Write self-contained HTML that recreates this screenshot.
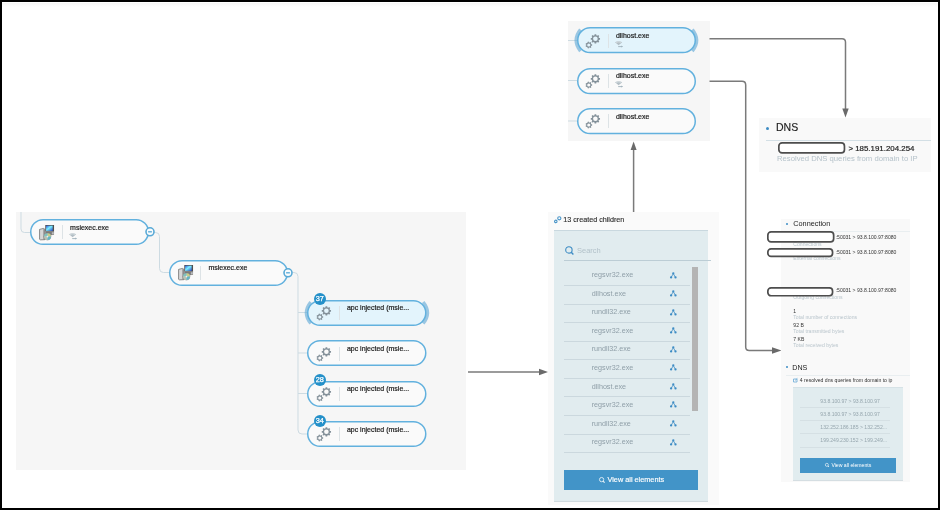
<!DOCTYPE html>
<html><head><meta charset="utf-8"><style>
html,body{margin:0;padding:0;}
body{width:940px;height:510px;position:relative;overflow:hidden;background:#fff;font-family:'Liberation Sans', sans-serif;}
#w{position:absolute;left:0;top:0;width:940px;height:510px;will-change:transform}
</style></head><body><div id="w">
<div style="position:absolute;left:2px;top:3px;width:936px;height:4px;background:linear-gradient(#f6f6f6,#fff)"></div>
<div style="position:absolute;left:16px;top:212px;width:450px;height:258px;background:#f6f6f6"></div>
<svg style="position:absolute;left:0;top:0" width="940" height="510">
<g fill="none" stroke="#cddbe2" stroke-width="1">
<path d="M21 212 L21 229 Q21 232.5 24.5 232.5 L31 232.5"/>
<path d="M154 232.5 L155.5 232.5 Q159.5 232.5 159.5 236.5 L159.5 268.5 Q159.5 272.5 163.5 272.5 L169.5 272.5"/>
<path d="M292.5 272.5 L294 272.5 Q298 272.5 298 276.5 L298 430 Q298 434 302 434 L308 434"/>
<path d="M298 312.5 L308 312.5 M298 353 L308 353 M298 393.5 L308 393.5"/>
<path d="M568 40.5 L577 40.5 M568 80.5 L577 80.5 M568 121 L577 121"/>
</g></svg>
<svg style="position:absolute;left:30.4px;top:219.3px;overflow:visible" width="119.2" height="26"><rect x="0.75" y="0.75" width="117.7" height="24.5" rx="12.25" fill="#fafafa" stroke="#62b1de" stroke-width="1.5"/></svg>
<div style="position:absolute;left:30.4px;top:219.3px;width:119.2px;height:26px">
<svg style="position:absolute;left:9.0px;top:5.3px;overflow:visible" width="16.2" height="16.2" viewBox="0 0 17 17">
<defs><linearGradient id="scr" x1="0" y1="0" x2="1" y2="1"><stop offset="0" stop-color="#2f56d8"/><stop offset="0.45" stop-color="#7af0ff"/><stop offset="1" stop-color="#2a48c8"/></linearGradient></defs>
<path d="M0.6 4.6 L4.6 3.6 L6.2 4.4 L6.2 15.4 L1.6 15.6 L0.6 15.0Z" fill="#d6d6d6" stroke="#5a5a5a" stroke-width="0.7"/>
<path d="M4.6 4 L6.2 4.6 L6.2 15.4 L4.6 15.5Z" fill="#8a8a8a"/>
<rect x="6.6" y="0" width="9.2" height="7" fill="#4e4e4e"/>
<rect x="7.4" y="0.7" width="7" height="5.5" fill="url(#scr)"/>
<path d="M6.6 7 L15.8 7 L15.8 10.2 L11.5 11 L6.6 10.5Z" fill="#7a7a7a"/>
<path d="M13.5 7.5 L15.6 7.5 L15.6 9.8 L13.5 10Z" fill="#bdbdbd"/>
<circle cx="8.9" cy="12.2" r="3.6" fill="#c7cbc9" stroke="#6e6e6e" stroke-width="0.5"/>
<path d="M8.9 8.6 A3.6 3.6 0 0 1 12.5 12.2 L8.9 12.2Z" fill="#c9cf86"/>
<path d="M8.9 12.2 L5.3 12.2 A3.6 3.6 0 0 1 8.9 8.6Z" fill="#7fc2bf"/>
<path d="M8.9 12.2 L8.9 15.8 A3.6 3.6 0 0 1 5.3 12.2Z" fill="#b9c3b0"/>
<path d="M8.9 12.2 L12.5 12.2 A3.6 3.6 0 0 1 8.9 15.8Z" fill="#5fb5c5"/>
<circle cx="8.9" cy="12.2" r="0.9" fill="#eee"/>
</svg>
<div style="position:absolute;left:31.4px;top:6.2px;width:1px;height:14px;background:#dde3e6"></div>
<div style="position:absolute;left:39.7px;top:4.5px;font:7px/8px 'Liberation Sans', sans-serif;color:#1a1a1a;-webkit-text-stroke:0.2px #1a1a1a;white-space:nowrap">msiexec.exe</div>
<svg style="position:absolute;left:39.0px;top:13.4px;overflow:visible" width="9" height="7" viewBox="0 0 9 7">
<path d="M0 1.2 Q3.6 -0.9 7.2 1.2 L3.6 4.2Z" fill="#b3bec5"/>
<path d="M0.9 1.6 Q3.6 0.3 6.3 1.6" fill="none" stroke="#e9eef1" stroke-width="0.5"/>
<path d="M3.2 5.6 L7.2 5.6" stroke="#9fb0ba" stroke-width="0.9"/><path d="M6.4 4.6 L8 5.6 L6.4 6.6Z" fill="#9fb0ba"/>
</svg>
</div>
<svg style="position:absolute;left:143.6px;top:226.3px;overflow:visible" width="12" height="12"><circle cx="6" cy="5.8" r="4" fill="#f8fbfd" stroke="#58a9d6" stroke-width="1.6"/><path d="M4.1 5.8 L7.9 5.8" stroke="#58a9d6" stroke-width="1.3"/></svg>
<svg style="position:absolute;left:168.7px;top:259.5px;overflow:visible" width="119.2" height="26"><rect x="0.75" y="0.75" width="117.7" height="24.5" rx="12.25" fill="#fafafa" stroke="#62b1de" stroke-width="1.5"/></svg>
<div style="position:absolute;left:168.7px;top:259.5px;width:119.2px;height:26px">
<svg style="position:absolute;left:9.0px;top:5.3px;overflow:visible" width="16.2" height="16.2" viewBox="0 0 17 17">
<defs><linearGradient id="scr" x1="0" y1="0" x2="1" y2="1"><stop offset="0" stop-color="#2f56d8"/><stop offset="0.45" stop-color="#7af0ff"/><stop offset="1" stop-color="#2a48c8"/></linearGradient></defs>
<path d="M0.6 4.6 L4.6 3.6 L6.2 4.4 L6.2 15.4 L1.6 15.6 L0.6 15.0Z" fill="#d6d6d6" stroke="#5a5a5a" stroke-width="0.7"/>
<path d="M4.6 4 L6.2 4.6 L6.2 15.4 L4.6 15.5Z" fill="#8a8a8a"/>
<rect x="6.6" y="0" width="9.2" height="7" fill="#4e4e4e"/>
<rect x="7.4" y="0.7" width="7" height="5.5" fill="url(#scr)"/>
<path d="M6.6 7 L15.8 7 L15.8 10.2 L11.5 11 L6.6 10.5Z" fill="#7a7a7a"/>
<path d="M13.5 7.5 L15.6 7.5 L15.6 9.8 L13.5 10Z" fill="#bdbdbd"/>
<circle cx="8.9" cy="12.2" r="3.6" fill="#c7cbc9" stroke="#6e6e6e" stroke-width="0.5"/>
<path d="M8.9 8.6 A3.6 3.6 0 0 1 12.5 12.2 L8.9 12.2Z" fill="#c9cf86"/>
<path d="M8.9 12.2 L5.3 12.2 A3.6 3.6 0 0 1 8.9 8.6Z" fill="#7fc2bf"/>
<path d="M8.9 12.2 L8.9 15.8 A3.6 3.6 0 0 1 5.3 12.2Z" fill="#b9c3b0"/>
<path d="M8.9 12.2 L12.5 12.2 A3.6 3.6 0 0 1 8.9 15.8Z" fill="#5fb5c5"/>
<circle cx="8.9" cy="12.2" r="0.9" fill="#eee"/>
</svg>
<div style="position:absolute;left:31.4px;top:6.2px;width:1px;height:14px;background:#dde3e6"></div>
<div style="position:absolute;left:39.7px;top:4.5px;font:7px/8px 'Liberation Sans', sans-serif;color:#1a1a1a;-webkit-text-stroke:0.2px #1a1a1a;white-space:nowrap">msiexec.exe</div>
</div>
<svg style="position:absolute;left:281.9px;top:266.5px;overflow:visible" width="12" height="12"><circle cx="6" cy="5.8" r="4" fill="#f8fbfd" stroke="#58a9d6" stroke-width="1.6"/><path d="M4.1 5.8 L7.9 5.8" stroke="#58a9d6" stroke-width="1.3"/></svg>
<svg style="position:absolute;left:0;top:0;overflow:visible" width="1" height="1"><g fill="none" stroke="rgba(92,166,214,0.6)" stroke-width="3.2">
<path d="M310.7 301.9 Q302.0 312.7 310.7 323.5"/>
<path d="M423.2 301.9 Q431.9 312.7 423.2 323.5"/></g></svg>
<svg style="position:absolute;left:307.2px;top:299.7px;overflow:visible" width="119.5" height="26"><rect x="0.75" y="0.75" width="118.0" height="24.5" rx="12.25" fill="#e3f4fc" stroke="#62b1de" stroke-width="1.5"/></svg>
<div style="position:absolute;left:307.2px;top:299.7px;width:119.5px;height:26px">
<svg style="position:absolute;left:9.2px;top:6.3px;overflow:visible" width="16" height="16" viewBox="0 0 16 16">
<path d="M13.99,3.91 L15.03,3.97 L15.03,5.63 L13.99,5.69 L13.57,6.71 L14.26,7.49 L13.09,8.66 L12.31,7.97 L11.29,8.39 L11.23,9.43 L9.57,9.43 L9.51,8.39 L8.49,7.97 L7.71,8.66 L6.54,7.49 L7.23,6.71 L6.81,5.69 L5.77,5.63 L5.77,3.97 L6.81,3.91 L7.23,2.89 L6.54,2.11 L7.71,0.94 L8.49,1.63 L9.51,1.21 L9.57,0.17 L11.23,0.17 L11.29,1.21 L12.31,1.63 L13.09,0.94 L14.26,2.11 L13.57,2.89Z" fill="#84919a"/><circle cx="10.4" cy="4.8" r="2.3" fill="#e3f4fc"/>
<path d="M6.30,10.29 L7.13,10.32 L7.13,11.68 L6.30,11.71 L5.92,12.51 L6.41,13.18 L5.34,14.03 L4.80,13.40 L3.94,13.60 L3.72,14.40 L2.39,14.10 L2.55,13.28 L1.86,12.73 L1.09,13.06 L0.50,11.83 L1.24,11.44 L1.24,10.56 L0.50,10.17 L1.09,8.94 L1.86,9.27 L2.55,8.72 L2.39,7.90 L3.72,7.60 L3.94,8.40 L4.80,8.60 L5.34,7.97 L6.41,8.82 L5.92,9.49Z" fill="#84919a"/><circle cx="3.8" cy="11.0" r="1.6" fill="#e3f4fc"/></svg>
<div style="position:absolute;left:31.4px;top:6.2px;width:1px;height:14px;background:#dde3e6"></div>
<div style="position:absolute;left:39.7px;top:4.5px;font:7px/8px 'Liberation Sans', sans-serif;color:#1a1a1a;-webkit-text-stroke:0.2px #1a1a1a;white-space:nowrap">apc injected (msie...</div>
</div>
<div style="position:absolute;left:313.8px;top:293.09999999999997px;width:12px;height:12px;border-radius:6px;background:#2490c9;color:#fff;font:7.3px/12px 'Liberation Sans', sans-serif;-webkit-text-stroke:0.25px #fff;text-align:center">37</div>
<svg style="position:absolute;left:307.2px;top:340.4px;overflow:visible" width="119.5" height="26"><rect x="0.75" y="0.75" width="118.0" height="24.5" rx="12.25" fill="#fafafa" stroke="#62b1de" stroke-width="1.5"/></svg>
<div style="position:absolute;left:307.2px;top:340.4px;width:119.5px;height:26px">
<svg style="position:absolute;left:9.2px;top:6.3px;overflow:visible" width="16" height="16" viewBox="0 0 16 16">
<path d="M13.99,3.91 L15.03,3.97 L15.03,5.63 L13.99,5.69 L13.57,6.71 L14.26,7.49 L13.09,8.66 L12.31,7.97 L11.29,8.39 L11.23,9.43 L9.57,9.43 L9.51,8.39 L8.49,7.97 L7.71,8.66 L6.54,7.49 L7.23,6.71 L6.81,5.69 L5.77,5.63 L5.77,3.97 L6.81,3.91 L7.23,2.89 L6.54,2.11 L7.71,0.94 L8.49,1.63 L9.51,1.21 L9.57,0.17 L11.23,0.17 L11.29,1.21 L12.31,1.63 L13.09,0.94 L14.26,2.11 L13.57,2.89Z" fill="#84919a"/><circle cx="10.4" cy="4.8" r="2.3" fill="#fafafa"/>
<path d="M6.30,10.29 L7.13,10.32 L7.13,11.68 L6.30,11.71 L5.92,12.51 L6.41,13.18 L5.34,14.03 L4.80,13.40 L3.94,13.60 L3.72,14.40 L2.39,14.10 L2.55,13.28 L1.86,12.73 L1.09,13.06 L0.50,11.83 L1.24,11.44 L1.24,10.56 L0.50,10.17 L1.09,8.94 L1.86,9.27 L2.55,8.72 L2.39,7.90 L3.72,7.60 L3.94,8.40 L4.80,8.60 L5.34,7.97 L6.41,8.82 L5.92,9.49Z" fill="#84919a"/><circle cx="3.8" cy="11.0" r="1.6" fill="#fafafa"/></svg>
<div style="position:absolute;left:31.4px;top:6.2px;width:1px;height:14px;background:#dde3e6"></div>
<div style="position:absolute;left:39.7px;top:4.5px;font:7px/8px 'Liberation Sans', sans-serif;color:#1a1a1a;-webkit-text-stroke:0.2px #1a1a1a;white-space:nowrap">apc injected (msie...</div>
</div>
<svg style="position:absolute;left:307.2px;top:380.8px;overflow:visible" width="119.5" height="26"><rect x="0.75" y="0.75" width="118.0" height="24.5" rx="12.25" fill="#fafafa" stroke="#62b1de" stroke-width="1.5"/></svg>
<div style="position:absolute;left:307.2px;top:380.8px;width:119.5px;height:26px">
<svg style="position:absolute;left:9.2px;top:6.3px;overflow:visible" width="16" height="16" viewBox="0 0 16 16">
<path d="M13.99,3.91 L15.03,3.97 L15.03,5.63 L13.99,5.69 L13.57,6.71 L14.26,7.49 L13.09,8.66 L12.31,7.97 L11.29,8.39 L11.23,9.43 L9.57,9.43 L9.51,8.39 L8.49,7.97 L7.71,8.66 L6.54,7.49 L7.23,6.71 L6.81,5.69 L5.77,5.63 L5.77,3.97 L6.81,3.91 L7.23,2.89 L6.54,2.11 L7.71,0.94 L8.49,1.63 L9.51,1.21 L9.57,0.17 L11.23,0.17 L11.29,1.21 L12.31,1.63 L13.09,0.94 L14.26,2.11 L13.57,2.89Z" fill="#84919a"/><circle cx="10.4" cy="4.8" r="2.3" fill="#fafafa"/>
<path d="M6.30,10.29 L7.13,10.32 L7.13,11.68 L6.30,11.71 L5.92,12.51 L6.41,13.18 L5.34,14.03 L4.80,13.40 L3.94,13.60 L3.72,14.40 L2.39,14.10 L2.55,13.28 L1.86,12.73 L1.09,13.06 L0.50,11.83 L1.24,11.44 L1.24,10.56 L0.50,10.17 L1.09,8.94 L1.86,9.27 L2.55,8.72 L2.39,7.90 L3.72,7.60 L3.94,8.40 L4.80,8.60 L5.34,7.97 L6.41,8.82 L5.92,9.49Z" fill="#84919a"/><circle cx="3.8" cy="11.0" r="1.6" fill="#fafafa"/></svg>
<div style="position:absolute;left:31.4px;top:6.2px;width:1px;height:14px;background:#dde3e6"></div>
<div style="position:absolute;left:39.7px;top:4.5px;font:7px/8px 'Liberation Sans', sans-serif;color:#1a1a1a;-webkit-text-stroke:0.2px #1a1a1a;white-space:nowrap">apc injected (msie...</div>
</div>
<div style="position:absolute;left:313.8px;top:374.2px;width:12px;height:12px;border-radius:6px;background:#2490c9;color:#fff;font:7.3px/12px 'Liberation Sans', sans-serif;-webkit-text-stroke:0.25px #fff;text-align:center">28</div>
<svg style="position:absolute;left:307.2px;top:421.2px;overflow:visible" width="119.5" height="26"><rect x="0.75" y="0.75" width="118.0" height="24.5" rx="12.25" fill="#fafafa" stroke="#62b1de" stroke-width="1.5"/></svg>
<div style="position:absolute;left:307.2px;top:421.2px;width:119.5px;height:26px">
<svg style="position:absolute;left:9.2px;top:6.3px;overflow:visible" width="16" height="16" viewBox="0 0 16 16">
<path d="M13.99,3.91 L15.03,3.97 L15.03,5.63 L13.99,5.69 L13.57,6.71 L14.26,7.49 L13.09,8.66 L12.31,7.97 L11.29,8.39 L11.23,9.43 L9.57,9.43 L9.51,8.39 L8.49,7.97 L7.71,8.66 L6.54,7.49 L7.23,6.71 L6.81,5.69 L5.77,5.63 L5.77,3.97 L6.81,3.91 L7.23,2.89 L6.54,2.11 L7.71,0.94 L8.49,1.63 L9.51,1.21 L9.57,0.17 L11.23,0.17 L11.29,1.21 L12.31,1.63 L13.09,0.94 L14.26,2.11 L13.57,2.89Z" fill="#84919a"/><circle cx="10.4" cy="4.8" r="2.3" fill="#fafafa"/>
<path d="M6.30,10.29 L7.13,10.32 L7.13,11.68 L6.30,11.71 L5.92,12.51 L6.41,13.18 L5.34,14.03 L4.80,13.40 L3.94,13.60 L3.72,14.40 L2.39,14.10 L2.55,13.28 L1.86,12.73 L1.09,13.06 L0.50,11.83 L1.24,11.44 L1.24,10.56 L0.50,10.17 L1.09,8.94 L1.86,9.27 L2.55,8.72 L2.39,7.90 L3.72,7.60 L3.94,8.40 L4.80,8.60 L5.34,7.97 L6.41,8.82 L5.92,9.49Z" fill="#84919a"/><circle cx="3.8" cy="11.0" r="1.6" fill="#fafafa"/></svg>
<div style="position:absolute;left:31.4px;top:6.2px;width:1px;height:14px;background:#dde3e6"></div>
<div style="position:absolute;left:39.7px;top:4.5px;font:7px/8px 'Liberation Sans', sans-serif;color:#1a1a1a;-webkit-text-stroke:0.2px #1a1a1a;white-space:nowrap">apc injected (msie...</div>
</div>
<div style="position:absolute;left:313.8px;top:414.59999999999997px;width:12px;height:12px;border-radius:6px;background:#2490c9;color:#fff;font:7.3px/12px 'Liberation Sans', sans-serif;-webkit-text-stroke:0.25px #fff;text-align:center">34</div>
<div style="position:absolute;left:568px;top:20.6px;width:142px;height:120px;background:#f6f6f6"></div>
<svg style="position:absolute;left:0;top:0" width="940" height="510">
<g fill="none" stroke="#cddbe2" stroke-width="1">
<path d="M568 40.5 L577 40.5 M568 80.5 L577 80.5 M568 121 L577 121"/>
</g></svg>
<svg style="position:absolute;left:0;top:0;overflow:visible" width="1" height="1"><g fill="none" stroke="rgba(92,166,214,0.6)" stroke-width="3.2">
<path d="M580.4 29.599999999999998 Q571.6999999999999 40.4 580.4 51.2"/>
<path d="M692.4 29.599999999999998 Q701.1 40.4 692.4 51.2"/></g></svg>
<svg style="position:absolute;left:576.9px;top:27.4px;overflow:visible" width="119" height="26.3"><rect x="0.75" y="0.75" width="117.5" height="24.8" rx="12.4" fill="#e3f4fc" stroke="#62b1de" stroke-width="1.5"/></svg>
<div style="position:absolute;left:576.9px;top:27.4px;width:119px;height:26.3px">
<svg style="position:absolute;left:8.5px;top:6.3px;overflow:visible" width="16" height="16" viewBox="0 0 16 16">
<path d="M13.99,3.91 L15.03,3.97 L15.03,5.63 L13.99,5.69 L13.57,6.71 L14.26,7.49 L13.09,8.66 L12.31,7.97 L11.29,8.39 L11.23,9.43 L9.57,9.43 L9.51,8.39 L8.49,7.97 L7.71,8.66 L6.54,7.49 L7.23,6.71 L6.81,5.69 L5.77,5.63 L5.77,3.97 L6.81,3.91 L7.23,2.89 L6.54,2.11 L7.71,0.94 L8.49,1.63 L9.51,1.21 L9.57,0.17 L11.23,0.17 L11.29,1.21 L12.31,1.63 L13.09,0.94 L14.26,2.11 L13.57,2.89Z" fill="#84919a"/><circle cx="10.4" cy="4.8" r="2.3" fill="#e3f4fc"/>
<path d="M6.30,10.29 L7.13,10.32 L7.13,11.68 L6.30,11.71 L5.92,12.51 L6.41,13.18 L5.34,14.03 L4.80,13.40 L3.94,13.60 L3.72,14.40 L2.39,14.10 L2.55,13.28 L1.86,12.73 L1.09,13.06 L0.50,11.83 L1.24,11.44 L1.24,10.56 L0.50,10.17 L1.09,8.94 L1.86,9.27 L2.55,8.72 L2.39,7.90 L3.72,7.60 L3.94,8.40 L4.80,8.60 L5.34,7.97 L6.41,8.82 L5.92,9.49Z" fill="#84919a"/><circle cx="3.8" cy="11.0" r="1.6" fill="#e3f4fc"/></svg>
<div style="position:absolute;left:30.7px;top:6.2px;width:1px;height:14px;background:#dde3e6"></div>
<div style="position:absolute;left:39.0px;top:4.8px;font:7px/8px 'Liberation Sans', sans-serif;color:#1a1a1a;-webkit-text-stroke:0.2px #1a1a1a;white-space:nowrap">dllhost.exe</div>
<svg style="position:absolute;left:38.3px;top:13.4px;overflow:visible" width="9" height="7" viewBox="0 0 9 7">
<path d="M0 1.2 Q3.6 -0.9 7.2 1.2 L3.6 4.2Z" fill="#b3bec5"/>
<path d="M0.9 1.6 Q3.6 0.3 6.3 1.6" fill="none" stroke="#e9eef1" stroke-width="0.5"/>
<path d="M3.2 5.6 L7.2 5.6" stroke="#9fb0ba" stroke-width="0.9"/><path d="M6.4 4.6 L8 5.6 L6.4 6.6Z" fill="#9fb0ba"/>
</svg>
</div>
<svg style="position:absolute;left:576.9px;top:67.6px;overflow:visible" width="119" height="26.3"><rect x="0.75" y="0.75" width="117.5" height="24.8" rx="12.4" fill="#fafafa" stroke="#62b1de" stroke-width="1.5"/></svg>
<div style="position:absolute;left:576.9px;top:67.6px;width:119px;height:26.3px">
<svg style="position:absolute;left:8.5px;top:6.3px;overflow:visible" width="16" height="16" viewBox="0 0 16 16">
<path d="M13.99,3.91 L15.03,3.97 L15.03,5.63 L13.99,5.69 L13.57,6.71 L14.26,7.49 L13.09,8.66 L12.31,7.97 L11.29,8.39 L11.23,9.43 L9.57,9.43 L9.51,8.39 L8.49,7.97 L7.71,8.66 L6.54,7.49 L7.23,6.71 L6.81,5.69 L5.77,5.63 L5.77,3.97 L6.81,3.91 L7.23,2.89 L6.54,2.11 L7.71,0.94 L8.49,1.63 L9.51,1.21 L9.57,0.17 L11.23,0.17 L11.29,1.21 L12.31,1.63 L13.09,0.94 L14.26,2.11 L13.57,2.89Z" fill="#84919a"/><circle cx="10.4" cy="4.8" r="2.3" fill="#fafafa"/>
<path d="M6.30,10.29 L7.13,10.32 L7.13,11.68 L6.30,11.71 L5.92,12.51 L6.41,13.18 L5.34,14.03 L4.80,13.40 L3.94,13.60 L3.72,14.40 L2.39,14.10 L2.55,13.28 L1.86,12.73 L1.09,13.06 L0.50,11.83 L1.24,11.44 L1.24,10.56 L0.50,10.17 L1.09,8.94 L1.86,9.27 L2.55,8.72 L2.39,7.90 L3.72,7.60 L3.94,8.40 L4.80,8.60 L5.34,7.97 L6.41,8.82 L5.92,9.49Z" fill="#84919a"/><circle cx="3.8" cy="11.0" r="1.6" fill="#fafafa"/></svg>
<div style="position:absolute;left:30.7px;top:6.2px;width:1px;height:14px;background:#dde3e6"></div>
<div style="position:absolute;left:39.0px;top:4.8px;font:7px/8px 'Liberation Sans', sans-serif;color:#1a1a1a;-webkit-text-stroke:0.2px #1a1a1a;white-space:nowrap">dllhost.exe</div>
<svg style="position:absolute;left:38.3px;top:13.4px;overflow:visible" width="9" height="7" viewBox="0 0 9 7">
<path d="M0 1.2 Q3.6 -0.9 7.2 1.2 L3.6 4.2Z" fill="#b3bec5"/>
<path d="M0.9 1.6 Q3.6 0.3 6.3 1.6" fill="none" stroke="#e9eef1" stroke-width="0.5"/>
<path d="M3.2 5.6 L7.2 5.6" stroke="#9fb0ba" stroke-width="0.9"/><path d="M6.4 4.6 L8 5.6 L6.4 6.6Z" fill="#9fb0ba"/>
</svg>
</div>
<svg style="position:absolute;left:576.9px;top:108.0px;overflow:visible" width="119" height="26.3"><rect x="0.75" y="0.75" width="117.5" height="24.8" rx="12.4" fill="#fafafa" stroke="#62b1de" stroke-width="1.5"/></svg>
<div style="position:absolute;left:576.9px;top:108.0px;width:119px;height:26.3px">
<svg style="position:absolute;left:8.5px;top:6.3px;overflow:visible" width="16" height="16" viewBox="0 0 16 16">
<path d="M13.99,3.91 L15.03,3.97 L15.03,5.63 L13.99,5.69 L13.57,6.71 L14.26,7.49 L13.09,8.66 L12.31,7.97 L11.29,8.39 L11.23,9.43 L9.57,9.43 L9.51,8.39 L8.49,7.97 L7.71,8.66 L6.54,7.49 L7.23,6.71 L6.81,5.69 L5.77,5.63 L5.77,3.97 L6.81,3.91 L7.23,2.89 L6.54,2.11 L7.71,0.94 L8.49,1.63 L9.51,1.21 L9.57,0.17 L11.23,0.17 L11.29,1.21 L12.31,1.63 L13.09,0.94 L14.26,2.11 L13.57,2.89Z" fill="#84919a"/><circle cx="10.4" cy="4.8" r="2.3" fill="#fafafa"/>
<path d="M6.30,10.29 L7.13,10.32 L7.13,11.68 L6.30,11.71 L5.92,12.51 L6.41,13.18 L5.34,14.03 L4.80,13.40 L3.94,13.60 L3.72,14.40 L2.39,14.10 L2.55,13.28 L1.86,12.73 L1.09,13.06 L0.50,11.83 L1.24,11.44 L1.24,10.56 L0.50,10.17 L1.09,8.94 L1.86,9.27 L2.55,8.72 L2.39,7.90 L3.72,7.60 L3.94,8.40 L4.80,8.60 L5.34,7.97 L6.41,8.82 L5.92,9.49Z" fill="#84919a"/><circle cx="3.8" cy="11.0" r="1.6" fill="#fafafa"/></svg>
<div style="position:absolute;left:30.7px;top:6.2px;width:1px;height:14px;background:#dde3e6"></div>
<div style="position:absolute;left:39.0px;top:4.8px;font:7px/8px 'Liberation Sans', sans-serif;color:#1a1a1a;-webkit-text-stroke:0.2px #1a1a1a;white-space:nowrap">dllhost.exe</div>
</div>
<svg style="position:absolute;left:0;top:0" width="940" height="510">
<g fill="none" stroke="#7a7a7a" stroke-width="1.5">
<path d="M468 372 L541 372"/>
<path d="M633.6 212 L633.6 148"/>
<path d="M709.5 38.8 L842 38.8 Q845.5 38.8 845.5 42.3 L845.5 110"/>
<path d="M709.5 81.2 L742 81.2 Q745.7 81.2 745.7 84.9 L745.7 347 Q745.7 350.5 749.2 350.5 L774 350.5"/>
</g>
<g fill="#6a6a6a">
<path d="M548 372 L539 368.8 L539 375.2Z"/>
<path d="M633.6 141.5 L630.6 150 L636.6 150Z"/>
<path d="M845.5 117.5 L842.3 108.5 L848.7 108.5Z"/>
<path d="M781.5 350.5 L772 347.3 L772 353.7Z"/>
</g></svg>
<div style="position:absolute;left:548.2px;top:211.8px;width:170.6px;height:293.5px;background:#fafafa"></div>
<svg style="position:absolute;left:553.5px;top:215.5px;overflow:visible" width="8" height="8" viewBox="0 0 8 8">
<circle cx="5.3" cy="2.3" r="1.6" fill="none" stroke="#4a95c8" stroke-width="1.1"/>
<circle cx="1.8" cy="5.4" r="1.25" fill="none" stroke="#4a95c8" stroke-width="1.1"/></svg>
<div style="position:absolute;left:563.2px;top:216.2px;font:7.2px/8px 'Liberation Sans', sans-serif;color:#2a2a2a;-webkit-text-stroke:0.12px #2a2a2a;white-space:nowrap">13 created children</div>
<div style="position:absolute;left:554px;top:230px;width:154.1px;height:271.5px;box-sizing:border-box;background:#e1ecef;border-top:1px solid #c9d8df;border-bottom:1px solid #d0dadf"></div>
<svg style="position:absolute;left:564.6px;top:246.3px;overflow:visible" width="9" height="9" viewBox="0 0 9 9">
<circle cx="3.9" cy="3.9" r="3.2" fill="none" stroke="#3d8cc4" stroke-width="1.1"/><path d="M6.2 6.2 L8.4 8.4" stroke="#3d8cc4" stroke-width="1.4300000000000002"/></svg>
<div style="position:absolute;left:577px;top:246.8px;font:7.5px/8px 'Liberation Sans', sans-serif;color:#b3c2ca;white-space:nowrap">Search</div>
<div style="position:absolute;left:564.2px;top:259.5px;width:147px;height:1px;background:#bccdd5"></div>
<div style="position:absolute;left:591.7px;top:271.10px;font:7.2px/8px 'Liberation Sans', sans-serif;color:#8e9ea7;white-space:nowrap">regsvr32.exe</div>
<svg style="position:absolute;left:669.8px;top:271.5px;overflow:visible" width="7" height="7" viewBox="0 0 7 7">
<circle cx="3.3" cy="1.3" r="1.15" fill="#3d8cc4"/><circle cx="1.1" cy="5.4" r="1.15" fill="#3d8cc4"/><circle cx="5.5" cy="5.4" r="1.15" fill="#3d8cc4"/>
<path d="M3.3 1.5 L1.3 5.2 M3.3 1.5 L5.3 5.2" stroke="#3d8cc4" stroke-width="0.8"/></svg>
<div style="position:absolute;left:564.2px;top:285.00px;width:125.6px;height:1px;background:#cbd8de"></div>
<div style="position:absolute;left:591.7px;top:289.67px;font:7.2px/8px 'Liberation Sans', sans-serif;color:#8e9ea7;white-space:nowrap">dllhost.exe</div>
<svg style="position:absolute;left:669.8px;top:290.07px;overflow:visible" width="7" height="7" viewBox="0 0 7 7">
<circle cx="3.3" cy="1.3" r="1.15" fill="#3d8cc4"/><circle cx="1.1" cy="5.4" r="1.15" fill="#3d8cc4"/><circle cx="5.5" cy="5.4" r="1.15" fill="#3d8cc4"/>
<path d="M3.3 1.5 L1.3 5.2 M3.3 1.5 L5.3 5.2" stroke="#3d8cc4" stroke-width="0.8"/></svg>
<div style="position:absolute;left:564.2px;top:303.57px;width:125.6px;height:1px;background:#cbd8de"></div>
<div style="position:absolute;left:591.7px;top:308.24px;font:7.2px/8px 'Liberation Sans', sans-serif;color:#8e9ea7;white-space:nowrap">rundll32.exe</div>
<svg style="position:absolute;left:669.8px;top:308.64px;overflow:visible" width="7" height="7" viewBox="0 0 7 7">
<circle cx="3.3" cy="1.3" r="1.15" fill="#3d8cc4"/><circle cx="1.1" cy="5.4" r="1.15" fill="#3d8cc4"/><circle cx="5.5" cy="5.4" r="1.15" fill="#3d8cc4"/>
<path d="M3.3 1.5 L1.3 5.2 M3.3 1.5 L5.3 5.2" stroke="#3d8cc4" stroke-width="0.8"/></svg>
<div style="position:absolute;left:564.2px;top:322.14px;width:125.6px;height:1px;background:#cbd8de"></div>
<div style="position:absolute;left:591.7px;top:326.81px;font:7.2px/8px 'Liberation Sans', sans-serif;color:#8e9ea7;white-space:nowrap">regsvr32.exe</div>
<svg style="position:absolute;left:669.8px;top:327.21px;overflow:visible" width="7" height="7" viewBox="0 0 7 7">
<circle cx="3.3" cy="1.3" r="1.15" fill="#3d8cc4"/><circle cx="1.1" cy="5.4" r="1.15" fill="#3d8cc4"/><circle cx="5.5" cy="5.4" r="1.15" fill="#3d8cc4"/>
<path d="M3.3 1.5 L1.3 5.2 M3.3 1.5 L5.3 5.2" stroke="#3d8cc4" stroke-width="0.8"/></svg>
<div style="position:absolute;left:564.2px;top:340.71px;width:125.6px;height:1px;background:#cbd8de"></div>
<div style="position:absolute;left:591.7px;top:345.38px;font:7.2px/8px 'Liberation Sans', sans-serif;color:#8e9ea7;white-space:nowrap">rundll32.exe</div>
<svg style="position:absolute;left:669.8px;top:345.78px;overflow:visible" width="7" height="7" viewBox="0 0 7 7">
<circle cx="3.3" cy="1.3" r="1.15" fill="#3d8cc4"/><circle cx="1.1" cy="5.4" r="1.15" fill="#3d8cc4"/><circle cx="5.5" cy="5.4" r="1.15" fill="#3d8cc4"/>
<path d="M3.3 1.5 L1.3 5.2 M3.3 1.5 L5.3 5.2" stroke="#3d8cc4" stroke-width="0.8"/></svg>
<div style="position:absolute;left:564.2px;top:359.28px;width:125.6px;height:1px;background:#cbd8de"></div>
<div style="position:absolute;left:591.7px;top:363.95px;font:7.2px/8px 'Liberation Sans', sans-serif;color:#8e9ea7;white-space:nowrap">regsvr32.exe</div>
<svg style="position:absolute;left:669.8px;top:364.35px;overflow:visible" width="7" height="7" viewBox="0 0 7 7">
<circle cx="3.3" cy="1.3" r="1.15" fill="#3d8cc4"/><circle cx="1.1" cy="5.4" r="1.15" fill="#3d8cc4"/><circle cx="5.5" cy="5.4" r="1.15" fill="#3d8cc4"/>
<path d="M3.3 1.5 L1.3 5.2 M3.3 1.5 L5.3 5.2" stroke="#3d8cc4" stroke-width="0.8"/></svg>
<div style="position:absolute;left:564.2px;top:377.85px;width:125.6px;height:1px;background:#cbd8de"></div>
<div style="position:absolute;left:591.7px;top:382.52px;font:7.2px/8px 'Liberation Sans', sans-serif;color:#8e9ea7;white-space:nowrap">dllhost.exe</div>
<svg style="position:absolute;left:669.8px;top:382.92px;overflow:visible" width="7" height="7" viewBox="0 0 7 7">
<circle cx="3.3" cy="1.3" r="1.15" fill="#3d8cc4"/><circle cx="1.1" cy="5.4" r="1.15" fill="#3d8cc4"/><circle cx="5.5" cy="5.4" r="1.15" fill="#3d8cc4"/>
<path d="M3.3 1.5 L1.3 5.2 M3.3 1.5 L5.3 5.2" stroke="#3d8cc4" stroke-width="0.8"/></svg>
<div style="position:absolute;left:564.2px;top:396.42px;width:125.6px;height:1px;background:#cbd8de"></div>
<div style="position:absolute;left:591.7px;top:401.09px;font:7.2px/8px 'Liberation Sans', sans-serif;color:#8e9ea7;white-space:nowrap">regsvr32.exe</div>
<svg style="position:absolute;left:669.8px;top:401.49px;overflow:visible" width="7" height="7" viewBox="0 0 7 7">
<circle cx="3.3" cy="1.3" r="1.15" fill="#3d8cc4"/><circle cx="1.1" cy="5.4" r="1.15" fill="#3d8cc4"/><circle cx="5.5" cy="5.4" r="1.15" fill="#3d8cc4"/>
<path d="M3.3 1.5 L1.3 5.2 M3.3 1.5 L5.3 5.2" stroke="#3d8cc4" stroke-width="0.8"/></svg>
<div style="position:absolute;left:564.2px;top:414.99px;width:125.6px;height:1px;background:#cbd8de"></div>
<div style="position:absolute;left:591.7px;top:419.66px;font:7.2px/8px 'Liberation Sans', sans-serif;color:#8e9ea7;white-space:nowrap">rundll32.exe</div>
<svg style="position:absolute;left:669.8px;top:420.06px;overflow:visible" width="7" height="7" viewBox="0 0 7 7">
<circle cx="3.3" cy="1.3" r="1.15" fill="#3d8cc4"/><circle cx="1.1" cy="5.4" r="1.15" fill="#3d8cc4"/><circle cx="5.5" cy="5.4" r="1.15" fill="#3d8cc4"/>
<path d="M3.3 1.5 L1.3 5.2 M3.3 1.5 L5.3 5.2" stroke="#3d8cc4" stroke-width="0.8"/></svg>
<div style="position:absolute;left:564.2px;top:433.56px;width:125.6px;height:1px;background:#cbd8de"></div>
<div style="position:absolute;left:591.7px;top:438.23px;font:7.2px/8px 'Liberation Sans', sans-serif;color:#8e9ea7;white-space:nowrap">regsvr32.exe</div>
<svg style="position:absolute;left:669.8px;top:438.63px;overflow:visible" width="7" height="7" viewBox="0 0 7 7">
<circle cx="3.3" cy="1.3" r="1.15" fill="#3d8cc4"/><circle cx="1.1" cy="5.4" r="1.15" fill="#3d8cc4"/><circle cx="5.5" cy="5.4" r="1.15" fill="#3d8cc4"/>
<path d="M3.3 1.5 L1.3 5.2 M3.3 1.5 L5.3 5.2" stroke="#3d8cc4" stroke-width="0.8"/></svg>
<div style="position:absolute;left:564.2px;top:452.13px;width:125.6px;height:1px;background:#cbd8de"></div>
<div style="position:absolute;left:691.8px;top:267px;width:6.4px;height:143.5px;background:#b4b4b4"></div>
<div style="position:absolute;left:564px;top:469.5px;width:134.2px;height:20.5px;background:#4294c8"></div>
<svg style="position:absolute;left:598.6px;top:476.6px;overflow:visible" width="6" height="6" viewBox="0 0 9 9">
<circle cx="3.9" cy="3.9" r="3.2" fill="none" stroke="#e8f2f8" stroke-width="1.3"/><path d="M6.2 6.2 L8.4 8.4" stroke="#e8f2f8" stroke-width="1.6900000000000002"/></svg>
<div style="position:absolute;left:607.5px;top:475.8px;font:7.3px/8px 'Liberation Sans', sans-serif;color:#fff;-webkit-text-stroke:0.15px #fff;white-space:nowrap">View all elements</div>
<div style="position:absolute;left:759.1px;top:117.7px;width:172px;height:54px;background:#f9f9f9"></div>
<div style="position:absolute;left:766.3px;top:126.7px;width:3px;height:3px;border-radius:50%;background:#3d8cc4"></div>
<div style="position:absolute;left:776px;top:121.8px;font:10.5px/11px 'Liberation Sans', sans-serif;color:#1e1e1e;-webkit-text-stroke:0.15px #1e1e1e;white-space:nowrap">DNS</div>
<div style="position:absolute;left:766.2px;top:140px;width:165px;height:1px;background:#d3dfe5"></div>
<svg style="position:absolute;left:777.7px;top:141.7px;overflow:visible" width="67.29999999999995" height="11.800000000000011"><rect x="0.85" y="0.85" width="65.59999999999995" height="10.100000000000012" rx="3.2" fill="#fff" stroke="#4d4d4d" stroke-width="1.7"/></svg>
<div style="position:absolute;left:848.4px;top:144px;font:7.9px/9px 'Liberation Sans', sans-serif;color:#1e1e1e;-webkit-text-stroke:0.2px #1e1e1e;white-space:nowrap">&gt; 185.191.204.254</div>
<div style="position:absolute;left:777px;top:153.5px;font:7.7px/9px 'Liberation Sans', sans-serif;color:#b5c2ca;white-space:nowrap">Resolved DNS queries from domain to IP</div>
<div style="position:absolute;left:781px;top:219.4px;width:128.6px;height:262.8px;background:#f9f9f9"></div>
<div style="position:absolute;left:785.8px;top:223.3px;width:2px;height:2px;border-radius:50%;background:#3d8cc4"></div>
<div style="position:absolute;left:793.3px;top:220px;font:7.3px/8px 'Liberation Sans', sans-serif;color:#222;white-space:nowrap">Connection</div>
<div style="position:absolute;left:786px;top:231.4px;width:123.6px;height:1px;background:#e9eef0"></div>
<div style="position:absolute;left:835.7px;top:233.8px;font:5.07px/6px 'Liberation Sans', sans-serif;color:#333;white-space:nowrap">:50031 &gt; 93.8.100.97:8080</div>
<div style="position:absolute;left:793.3px;top:240.60000000000002px;font:5.1px/6px 'Liberation Sans', sans-serif;color:#b9c5cc;white-space:nowrap">Connections</div>
<div style="position:absolute;left:835.7px;top:248.70000000000002px;font:5.07px/6px 'Liberation Sans', sans-serif;color:#333;white-space:nowrap">:50031 &gt; 93.8.100.97:8080</div>
<div style="position:absolute;left:793.3px;top:255.10000000000002px;font:5.1px/6px 'Liberation Sans', sans-serif;color:#b9c5cc;white-space:nowrap">External connections</div>
<div style="position:absolute;left:835.7px;top:287.40000000000003px;font:5.07px/6px 'Liberation Sans', sans-serif;color:#333;white-space:nowrap">:50031 &gt; 93.8.100.97:8080</div>
<div style="position:absolute;left:793.3px;top:294.0px;font:5.1px/6px 'Liberation Sans', sans-serif;color:#b9c5cc;white-space:nowrap">Outgoing connections</div>
<svg style="position:absolute;left:767.2px;top:230.6px;overflow:visible" width="67.5" height="11.700000000000017"><rect x="0.85" y="0.85" width="65.8" height="10.000000000000018" rx="3.2" fill="#fff" stroke="#4d4d4d" stroke-width="1.7"/></svg>
<svg style="position:absolute;left:767.2px;top:248px;overflow:visible" width="66.39999999999998" height="9.199999999999989"><rect x="0.85" y="0.85" width="64.69999999999997" height="7.4999999999999885" rx="3.2" fill="#fff" stroke="#4d4d4d" stroke-width="1.7"/></svg>
<svg style="position:absolute;left:767.2px;top:287px;overflow:visible" width="66.39999999999998" height="9.600000000000023"><rect x="0.85" y="0.85" width="64.69999999999997" height="7.900000000000023" rx="3.2" fill="#fff" stroke="#4d4d4d" stroke-width="1.7"/></svg>
<div style="position:absolute;left:793.3px;top:307.7px;font:5.1px/6px 'Liberation Sans', sans-serif;color:#333;white-space:nowrap">1</div>
<div style="position:absolute;left:793.3px;top:314.0px;font:5.1px/6px 'Liberation Sans', sans-serif;color:#b9c5cc;white-space:nowrap">Total number of connections</div>
<div style="position:absolute;left:793.3px;top:322.1px;font:5.1px/6px 'Liberation Sans', sans-serif;color:#333;white-space:nowrap">92 B</div>
<div style="position:absolute;left:793.3px;top:328.1px;font:5.1px/6px 'Liberation Sans', sans-serif;color:#b9c5cc;white-space:nowrap">Total transmitted bytes</div>
<div style="position:absolute;left:793.3px;top:335.90000000000003px;font:5.1px/6px 'Liberation Sans', sans-serif;color:#333;white-space:nowrap">7 KB</div>
<div style="position:absolute;left:793.3px;top:341.90000000000003px;font:5.1px/6px 'Liberation Sans', sans-serif;color:#b9c5cc;white-space:nowrap">Total received bytes</div>
<div style="position:absolute;left:785.8px;top:366.4px;width:2px;height:2px;border-radius:50%;background:#3d8cc4"></div>
<div style="position:absolute;left:792.3px;top:363.5px;font:7.1px/8px 'Liberation Sans', sans-serif;color:#222;white-space:nowrap">DNS</div>
<div style="position:absolute;left:786px;top:375px;width:123.6px;height:1px;background:#e9eef0"></div>
<svg style="position:absolute;left:793.3px;top:378px;overflow:visible" width="5" height="5" viewBox="0 0 5 5">
<path d="M0.5 1 L4 1 L4 4 L0.5 4Z" fill="none" stroke="#6aaad6" stroke-width="0.8"/><path d="M2 2.5 L4.5 0.3" stroke="#6aaad6" stroke-width="0.7"/></svg>
<div style="position:absolute;left:799.8px;top:377.3px;font:5.13px/6px 'Liberation Sans', sans-serif;color:#333;white-space:nowrap">4 resolved dns queries from domain to ip</div>
<div style="position:absolute;left:793.1px;top:387.2px;width:109.8px;height:93.4px;box-sizing:border-box;background:#e1ecef;border-top:1px solid #d6e2e6;border-bottom:1px solid #d5dee2"></div>
<div style="position:absolute;left:820.3px;top:398.10px;font:5.1px/6px 'Liberation Sans', sans-serif;color:#96a6ae;white-space:nowrap">93.8.100.97 &gt; 93.8.100.97</div>
<div style="position:absolute;left:800.3px;top:407.20px;width:89.4px;height:0.8px;background:#d5e0e4"></div>
<div style="position:absolute;left:820.3px;top:411.00px;font:5.1px/6px 'Liberation Sans', sans-serif;color:#96a6ae;white-space:nowrap">93.8.100.97 &gt; 93.8.100.97</div>
<div style="position:absolute;left:800.3px;top:420.30px;width:89.4px;height:0.8px;background:#d5e0e4"></div>
<div style="position:absolute;left:820.3px;top:423.90px;font:5.1px/6px 'Liberation Sans', sans-serif;color:#96a6ae;white-space:nowrap">132.252.186.185 &gt; 132.252...</div>
<div style="position:absolute;left:800.3px;top:433.40px;width:89.4px;height:0.8px;background:#d5e0e4"></div>
<div style="position:absolute;left:820.3px;top:436.80px;font:5.1px/6px 'Liberation Sans', sans-serif;color:#96a6ae;white-space:nowrap">199.249.230.152 &gt; 199.249...</div>
<div style="position:absolute;left:800.3px;top:446.50px;width:89.4px;height:0.8px;background:#d5e0e4"></div>
<div style="position:absolute;left:800.3px;top:458px;width:95.7px;height:14.7px;background:#4294c8"></div>
<svg style="position:absolute;left:825.2px;top:463.3px;overflow:visible" width="4.3" height="4.3" viewBox="0 0 9 9">
<circle cx="3.9" cy="3.9" r="3.2" fill="none" stroke="#e8f2f8" stroke-width="1.4"/><path d="M6.2 6.2 L8.4 8.4" stroke="#e8f2f8" stroke-width="1.8199999999999998"/></svg>
<div style="position:absolute;left:831.4px;top:462.3px;font:5.15px/6px 'Liberation Sans', sans-serif;color:#fff;white-space:nowrap">View all elements</div>

<div style="position:absolute;left:0;top:0;width:940px;height:510px;box-sizing:border-box;border:2px solid #000"></div>
</div></body></html>
